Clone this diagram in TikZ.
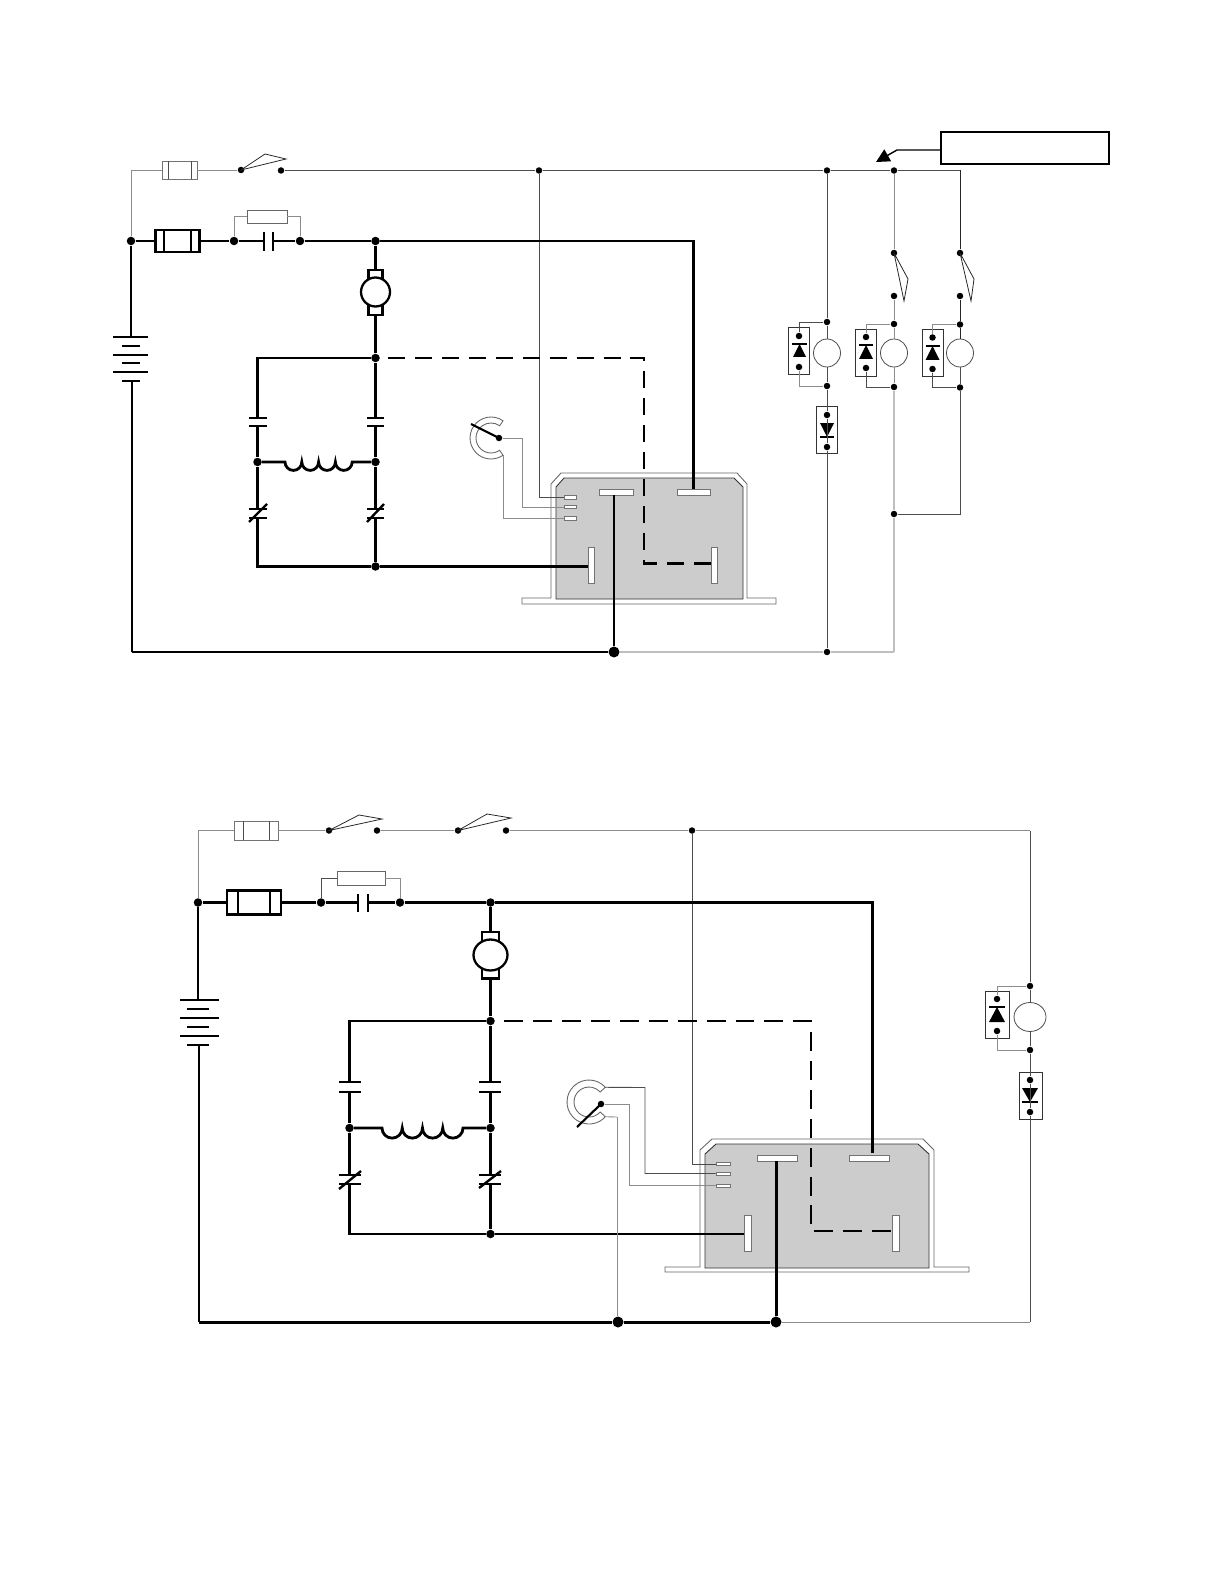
\documentclass[tikz,border=0pt]{standalone}
\usepackage{xcolor}
\usepackage{tikz}
\usetikzlibrary{calc,arrows.meta,shapes.geometric}

\tikzset{
    power/.style={line width=1.7pt, black},
    branch/.style={line width=1.6pt, black},
    signal/.style={line width=0.5pt, black!70},
    pale/.style={line width=0.5pt, black!45},
    faint/.style={line width=0.6pt, black!25},
    link/.style={line width=1.55pt, black, dash pattern=on 17*0.5669pt off 10*0.5669pt},
    jdot/.style={circle, fill=black, inner sep=0pt, minimum size=0.17cm},
    smalldot/.style={circle, fill=black, inner sep=0pt, minimum size=0.13cm},
    bigdot/.style={circle, fill=black, inner sep=0pt, minimum size=0.22cm},
    fusebox/.style={draw=black!55, line width=0.5pt, fill=white, inner sep=0pt},
    mainfuse/.style={draw=black, line width=1.5pt, fill=white, inner sep=0pt},
    shunt/.style={draw=black!60, line width=0.5pt, fill=white, inner sep=0pt},
    tab/.style={draw=black, line width=1.2pt, fill=white, inner sep=0pt},
    motor/.style={ellipse, draw=black, line width=1.3pt, fill=white, inner sep=0pt},
    lamp/.style={ellipse, draw=black!70, line width=0.45pt, fill=white, inner sep=0pt},
    diodebox/.style={draw=black!80, line width=0.5pt, inner sep=0pt, minimum width=0.42cm, minimum height=0.94cm},
    pad/.style={draw=black!55, line width=0.4pt, fill=white, inner sep=0pt},
    plate/.style={line width=1.35pt, black},
    blade/.style={line width=0.45pt, black!85},
    shell/.style={draw=black!60, line width=0.5pt, fill=white},
    core/.style={draw=black!80, line width=0.5pt, fill=black!20},
}

\begin{document}
\begin{tikzpicture}[x=0.02cm, y=-0.02cm]
    \useasboundingbox (0,0) rectangle (1224,1584);

    % Upper controller - flange, shell and grey core
    \draw[shell] (522,598) -- (551,598) -- (551,484) -- (561,473) -- (737,473) -- (747,484) -- (747,598) -- (776,598) -- (776,604) -- (522,604) -- cycle;
    \draw[core] (556,599) -- (556,487) -- (564,478) -- (734,478) -- (743,487) -- (743,599) -- cycle;

    % Upper controller - pads
    \node[pad, minimum width=0.68cm, minimum height=0.12cm] (apadl) at (616,492) {};
    \node[pad, minimum width=0.66cm, minimum height=0.12cm] (apadr) at (693.5,492) {};
    \node[pad, minimum width=0.24cm, minimum height=0.07cm] (apads1) at (570,497.5) {};
    \node[pad, minimum width=0.24cm, minimum height=0.07cm] (apads2) at (570,507) {};
    \node[pad, minimum width=0.24cm, minimum height=0.07cm] (apads3) at (570,518.5) {};
    \node[pad, minimum width=0.12cm, minimum height=0.72cm] (apadv1) at (591,565) {};
    \node[pad, minimum width=0.12cm, minimum height=0.72cm] (apadv2) at (714,565) {};

    % Upper circuit - feed line with fuse and key switch
    \node[jdot] (ain) at (131,241) {};
    \node[fusebox, minimum width=0.7cm, minimum height=0.36cm] (afuse) at (179.5,170) {};
    \draw[signal] (168,161) -- (168,179);
    \draw[signal] (191,161) -- (191,179);
    \node[smalldot] (akey1) at (241,170) {};
    \node[smalldot] (akey2) at (281,170.5) {};
    \draw[blade] (akey1.center) -- (265,154) -- (286,159) -- cycle;
    \node[smalldot] (atap) at (539,170.5) {};
    \node[smalldot] (atop1) at (827,170.5) {};
    \node[smalldot] (atop2) at (894,170.5) {};
    \coordinate (atop3) at (960,170.5);
    \draw[pale] (ain) |- (afuse.west);
    \draw[pale] (afuse.east) -- (akey1);
    \draw[signal] (akey2) -- (atap) -- (atop1) -- (atop2) -- (atop3);

    % Upper circuit - callout box
    \node[draw, line width=0.8pt, fill=white, inner sep=0pt, minimum width=3.36cm, minimum height=0.64cm] (anote) at (1025,148) {};
    \coordinate (anotetip) at (876,162);
    \coordinate (anotebend) at (897,150);
    \draw[line width=0.8pt, -{Triangle[length=0.27cm, width=0.27cm]}] (anote.west |- anotebend) -- (anotebend) -- (anotetip);

    % Upper circuit - main fuse, shunt and capacitor
    \node[mainfuse, minimum width=0.88cm, minimum height=0.44cm] (amain) at (177.5,241) {};
    \draw[branch] (164,230) -- (164,252);
    \draw[branch] (191,230) -- (191,252);
    \node[jdot] (acap1) at (234,241) {};
    \node[jdot] (acap2) at (300,241) {};
    \node[jdot] (abus) at (375.5,241) {};
    \node[shunt, minimum width=0.8cm, minimum height=0.26cm] (ashunt) at (267,216.5) {};
    \coordinate (acapl) at (264,241);
    \coordinate (acapr) at (273,241);
    \draw[plate] (264,232) -- (264,251);
    \draw[plate] (273,232) -- (273,251);
    \draw[power] (ain) -- (amain);
    \draw[power] (amain) -- (acap1) -- (acapl);
    \draw[power] (acapr) -- (acap2) -- (abus);
    \draw[pale] (acap1) |- (ashunt.west);
    \draw[pale] (acap2) |- (ashunt.east);

    % Upper circuit - battery
    \coordinate (abat1) at (131,337);
    \coordinate (abat2) at (132,381);
    \coordinate (agnd) at (132,652);
    \draw[plate] (113,337) -- (148,337);
    \draw[plate] (122,346) -- (140,346);
    \draw[plate] (113,355) -- (148,355);
    \draw[plate] (122,363) -- (140,363);
    \draw[plate] (113,372) -- (148,372);
    \draw[plate] (122,381) -- (140,381);
    \draw[power] (ain) -- (abat1);
    \draw[power] (abat2) -- (agnd);

    % Upper circuit - motor
    \node[tab, minimum width=0.28cm, minimum height=0.2cm] (amotup) at (375.5,275) {};
    \node[tab, minimum width=0.28cm, minimum height=0.2cm] (amotdn) at (375.5,310) {};
    \node[motor, minimum width=0.58cm, minimum height=0.58cm] (amot) at (375.5,292) {};
    \node[jdot] (afield) at (375.5,358) {};
    \draw[branch] (abus) -- (amotup);
    \draw[branch] (amotdn) -- (afield);

    % Upper circuit - capacitors, coil and contactor tips
    \coordinate (alt) at (257.5,358);
    \coordinate (acl1) at (257.5,418);
    \coordinate (acl2) at (257.5,426);
    \coordinate (acr1) at (375.5,418);
    \coordinate (acr2) at (375.5,426);
    \node[jdot] (anl) at (257.5,462) {};
    \node[jdot] (anr) at (375.5,462) {};
    \coordinate (avl1) at (257.5,509);
    \coordinate (avl2) at (257.5,518);
    \coordinate (avr1) at (375.5,509);
    \coordinate (avr2) at (375.5,518);
    \coordinate (alb) at (257.5,566.5);
    \node[jdot] (anb) at (375.5,566.5) {};
    \draw[plate] (249,418) -- (267,418);
    \draw[plate] (249,426) -- (267,426);
    \draw[plate] (367,418) -- (384,418);
    \draw[plate] (367,426) -- (384,426);
    \draw[plate] (249,509) -- (267,509);
    \draw[plate] (249,518) -- (267,518);
    \draw[plate] (249,522) -- (267,504);
    \draw[plate] (367,509) -- (384,509);
    \draw[plate] (367,518) -- (384,518);
    \draw[plate] (367,522) -- (384,504);
    \draw[branch] (afield) -- (alt) -- (acl1);
    \draw[branch] (acl2) -- (anl) -- (avl1);
    \draw[branch] (avl2) -- (alb) -- (anb);
    \draw[branch] (afield) -- (acr1);
    \draw[branch] (acr2) -- (anr) -- (avr1);
    \draw[branch] (avr2) -- (anb);
    \draw[branch] (anl) -- (285,462) arc[start angle=180, end angle=360, radius=0.168cm] arc[start angle=180, end angle=360, radius=0.168cm] arc[start angle=180, end angle=360, radius=0.168cm] arc[start angle=180, end angle=360, radius=0.168cm] -- (anr);
    \draw[branch] (anb) -- (anb -| apadv1.west);

    % Upper circuit - throttle pot
    \coordinate (apot) at (491,438);
    \coordinate (apottop) at ($(apot)+(55:0.42cm)$);
    \coordinate (apotbot) at ($(apot)+(305:0.42cm)$);
    \draw[pale, black!60] (apottop) arc[start angle=55, end angle=305, radius=0.42cm] -- ($(apot)+(305:0.3cm)$) arc[start angle=305, end angle=55, radius=0.3cm] -- cycle;
    \node[jdot, minimum size=0.13cm] (awiper) at (499,438) {};
    \coordinate (awiperend) at (471,424);
    \draw[line width=1.2pt] (awiper.center) -- (awiperend);
    \coordinate (awb) at (522,438);
    \draw[pale] (awiper) -- (awb) |- (apads2.west);
    \draw[pale] (apotbot) |- (apads3.west);
    \draw[signal] (atap) |- (apads1.west);

    % Upper circuit - lamp branches with diodes and switches
    \node[smalldot] (asw2a) at (894,253) {};
    \node[smalldot] (asw2b) at (894,296) {};
    \node[smalldot] (asw3a) at (960,253) {};
    \node[smalldot] (asw3b) at (960,296) {};
    \draw[blade] (asw2a.center) -- (908,279) -- (904,301) -- cycle;
    \draw[blade] (asw3a.center) -- (974,279) -- (971,301) -- cycle;
    \node[smalldot] (ala1) at (827,322) {};
    \node[smalldot] (ala2) at (894,324) {};
    \node[smalldot] (ala3) at (960,324.5) {};
    \node[lamp, minimum width=0.54cm, minimum height=0.56cm] (alamp1) at (827,353) {};
    \node[lamp, minimum width=0.54cm, minimum height=0.56cm] (alamp2) at (894,353) {};
    \node[lamp, minimum width=0.54cm, minimum height=0.56cm] (alamp3) at (960,353) {};
    \node[smalldot] (alb1) at (827,386) {};
    \node[smalldot] (alb2) at (894,387) {};
    \node[smalldot] (alb3) at (960,387.5) {};
    \node[smalldot] (ajoin) at (894,514) {};
    \coordinate (ajoin3) at (960,514);
    \node[smalldot] (aret1) at (827,652) {};
    \coordinate (aret2) at (894,652);
    \node[diodebox] (aboxd) at (827,430) {};
    \node[smalldot] (adda) at (827,415) {};
    \node[smalldot] (addb) at (827,447) {};
    \fill (820,423) -- (834,423) -- (827,437) -- cycle;
    \draw[line width=0.7pt] (820,437) -- (834,437);
    \draw[signal] (atop1) -- (ala1) -- (alamp1);
    \draw[signal] (alamp1) -- (alb1) -- (adda) -- (addb) -- (aret1);
    \draw[pale] (atop2) -- (asw2a);
    \draw[pale] (asw2b) -- (ala2) -- (alamp2);
    \draw[pale] (alamp2) -- (alb2);
    \draw[faint] (alb2) -- (ajoin) -- (aret2);
    \draw[line width=0.5pt, black!85] (atop3) -- (asw3a);
    \draw[line width=0.5pt, black!85] (asw3b) -- (ala3) -- (alamp3);
    \draw[signal] (alamp3) -- (alb3) -- (ajoin3) -- (ajoin);

    % Upper circuit - diodes across the lamps
    \node[diodebox] (aboxa) at (799,351) {};
    \node[smalldot] (ada1) at (799,336) {};
    \node[smalldot] (ada2) at (799,367) {};
    \fill (793,357) -- (806,357) -- (799.5,344) -- cycle;
    \draw[line width=0.7pt] (792,344) -- (807,344);
    \node[diodebox] (aboxb) at (866,352.5) {};
    \node[smalldot] (adb1) at (866,337) {};
    \node[smalldot] (adb2) at (866,368) {};
    \fill (859,359) -- (873,359) -- (866,345) -- cycle;
    \draw[line width=0.7pt] (859,345) -- (873,345);
    \node[diodebox] (aboxc) at (932.5,353) {};
    \node[smalldot] (adc1) at (932.5,337.5) {};
    \node[smalldot] (adc2) at (932.5,369) {};
    \fill (925.5,360) -- (939.5,360) -- (932.5,346) -- cycle;
    \draw[line width=0.7pt] (925.5,346) -- (939.5,346);
    \draw[signal] (ala1) -| (ada1);
    \draw[pale] (ada2) |- (alb1);
    \draw[pale] (ala2) -| (adb1);
    \draw[signal] (adb2) |- (alb2);
    \draw[pale] (ala3) -| (adc1);
    \draw[signal] (adc2) |- (alb3);

    % Upper circuit - bottom return and controller links
    \node[bigdot] (aground) at (614,652) {};
    \draw[power] (agnd) -- (aground);
    \draw[faint] (aground) -- (aret1);
    \draw[faint] (aret1) -- (aret2);
    \draw[branch] (aground) -- (aground |- apadl.south);
    \draw[power] (abus) -| (apadr.north);
    \draw[link, dash phase=14*0.5669pt] (afield.center) -| (644,563.5) -- (apadv2.west |- 644,563.5);

    % Lower controller - flange, shell and grey core
    \draw[shell] (665,1267) -- (700,1267) -- (700,1150) -- (712,1139) -- (923,1139) -- (934,1150) -- (934,1267) -- (969,1267) -- (969,1272) -- (665,1272) -- cycle;
    \draw[core] (705,1268) -- (705,1154) -- (716,1144) -- (918,1144) -- (929,1154) -- (929,1268) -- cycle;

    % Lower controller - pads
    \node[pad, minimum width=0.8cm, minimum height=0.12cm] (bpadl) at (777,1158) {};
    \node[pad, minimum width=0.8cm, minimum height=0.12cm] (bpadr) at (869,1158) {};
    \node[pad, minimum width=0.28cm, minimum height=0.07cm] (bpads1) at (723,1164) {};
    \node[pad, minimum width=0.28cm, minimum height=0.06cm] (bpads2) at (723,1173.5) {};
    \node[pad, minimum width=0.28cm, minimum height=0.06cm] (bpads3) at (723,1185.5) {};
    \node[pad, minimum width=0.14cm, minimum height=0.72cm] (bpadv1) at (747.5,1233) {};
    \node[pad, minimum width=0.14cm, minimum height=0.72cm] (bpadv2) at (895.5,1233) {};

    % Lower circuit - feed line with fuse and two switches
    \node[jdot] (bin) at (198,902.5) {};
    \node[fusebox, minimum width=0.88cm, minimum height=0.38cm] (bfuse) at (256,830.5) {};
    \draw[signal] (243,821) -- (243,840);
    \draw[signal] (269,821) -- (269,840);
    \node[smalldot] (bkey1) at (329,830.5) {};
    \node[smalldot] (bkey2) at (377,830.5) {};
    \draw[blade] (bkey1.center) -- (359,815) -- (382,819) -- cycle;
    \node[smalldot] (bkey3) at (458,830.5) {};
    \node[smalldot] (bkey4) at (506,830.5) {};
    \draw[blade] (bkey3.center) -- (487,814) -- (511,818) -- cycle;
    \node[smalldot] (btap) at (692,830.5) {};
    \coordinate (btop) at (1030,830.5);
    \draw[pale] (bin) |- (bfuse.west);
    \draw[pale] (bfuse.east) -- (bkey1);
    \draw[pale] (bkey2) -- (bkey3);
    \draw[pale] (bkey4) -- (btap) -- (btop);

    % Lower circuit - main fuse, shunt and capacitor
    \node[mainfuse, minimum width=1.08cm, minimum height=0.48cm] (bmain) at (254,902.5) {};
    \draw[branch] (238,891) -- (238,914);
    \draw[branch] (270,891) -- (270,914);
    \node[jdot] (bcap1) at (321,902.5) {};
    \node[jdot] (bcap2) at (400,902.5) {};
    \node[jdot] (bbus) at (490.5,902.5) {};
    \node[shunt, minimum width=0.96cm, minimum height=0.28cm] (bshunt) at (361,878) {};
    \coordinate (bcapl) at (358,902.5);
    \coordinate (bcapr) at (368,902.5);
    \draw[plate] (358,894) -- (358,912);
    \draw[plate] (368,894) -- (368,912);
    \draw[branch] (bin) -- (bmain);
    \draw[branch] (bmain) -- (bcap1) -- (bcapl);
    \draw[power] (bcapr) -- (bcap2) -- (bbus);
    \draw[signal] (bcap1) |- (bshunt.west);
    \draw[pale] (bcap2) |- (bshunt.east);

    % Lower circuit - battery
    \coordinate (bbat1) at (198,1000);
    \coordinate (bbat2) at (199,1045);
    \coordinate (bgnd) at (199,1322);
    \draw[plate] (180,1000) -- (219,1000);
    \draw[plate] (187,1009) -- (209,1009);
    \draw[plate] (180,1018) -- (219,1018);
    \draw[plate] (187,1027) -- (209,1027);
    \draw[plate] (180,1036) -- (219,1036);
    \draw[plate] (187,1045) -- (209,1045);
    \draw[branch] (bin) -- (bbat1);
    \draw[power] (bbat2) -- (bgnd);

    % Lower circuit - motor
    \node[tab, minimum width=0.34cm, minimum height=0.2cm] (bmotup) at (490.5,937) {};
    \node[tab, minimum width=0.34cm, minimum height=0.2cm] (bmotdn) at (490.5,973.5) {};
    \node[motor, minimum width=0.68cm, minimum height=0.62cm] (bmot) at (490.5,955) {};
    \node[jdot] (bfield) at (490.5,1021) {};
    \draw[branch] (bbus) -- (bmotup);
    \draw[branch] (bmotdn) -- (bfield);

    % Lower circuit - capacitors, coil and contactor tips
    \coordinate (blt) at (349.5,1021);
    \coordinate (bcl1) at (349.5,1082);
    \coordinate (bcl2) at (349.5,1092);
    \coordinate (bcr1) at (490.5,1082);
    \coordinate (bcr2) at (490.5,1092);
    \node[jdot] (bnl) at (349.5,1128) {};
    \node[jdot] (bnr) at (490.5,1128) {};
    \coordinate (bvl1) at (349.5,1175);
    \coordinate (bvl2) at (349.5,1184);
    \coordinate (bvr1) at (490.5,1175);
    \coordinate (bvr2) at (490.5,1184);
    \coordinate (blb) at (349.5,1234);
    \node[jdot] (bnb) at (490.5,1234) {};
    \draw[plate] (339,1082) -- (361,1082);
    \draw[plate] (339,1092) -- (361,1092);
    \draw[plate] (479,1082) -- (501,1082);
    \draw[plate] (479,1092) -- (501,1092);
    \draw[plate] (339,1175) -- (361,1175);
    \draw[plate] (339,1184) -- (361,1184);
    \draw[plate] (339,1189) -- (361,1171);
    \draw[plate] (479,1175) -- (501,1175);
    \draw[plate] (479,1184) -- (501,1184);
    \draw[plate] (479,1188) -- (501,1171);
    \draw[branch] (bfield) -- (blt) -- (bcl1);
    \draw[branch] (bcl2) -- (bnl) -- (bvl1);
    \draw[branch] (bvl2) -- (blb) -- (bnb);
    \draw[branch] (bfield) -- (bcr1);
    \draw[branch] (bcr2) -- (bnr) -- (bvr1);
    \draw[branch] (bvr2) -- (bnb);
    \draw[branch] (bnl) -- (382,1128) arc[start angle=180, end angle=360, radius=0.2025cm] arc[start angle=180, end angle=360, radius=0.2025cm] arc[start angle=180, end angle=360, radius=0.2025cm] arc[start angle=180, end angle=360, radius=0.2025cm] -- (bnr);
    \draw[branch] (bnb) -- (bnb -| bpadv1.west);

    % Lower circuit - throttle pot
    \coordinate (bpot) at (589,1102);
    \coordinate (bpottop) at ($(bpot)+(42:0.44cm)$);
    \coordinate (bpotbot) at ($(bpot)+(318:0.44cm)$);
    \draw[pale, black!60] (bpottop) arc[start angle=42, end angle=318, radius=0.44cm] -- ($(bpot)+(318:0.3cm)$) arc[start angle=318, end angle=42, radius=0.3cm] -- cycle;
    \node[jdot, minimum size=0.13cm] (bwiper) at (601,1104) {};
    \coordinate (bwiperend) at (577,1127);
    \draw[line width=1.2pt] (bwiper.center) -- (bwiperend);
    \coordinate (bwb) at (629,1104);
    \coordinate (btb) at (645,1087.5);
    \coordinate (blow) at (617,1117);
    \draw[pale] (bwiper) -- (bwb) |- (bpads3.west);
    \draw[signal] (bpottop) -- (btb) |- (bpads2.west);
    \draw[signal] (btap) |- (bpads1.west);

    % Lower circuit - lamp branch
    \node[smalldot] (bla) at (1030,986) {};
    \node[lamp, minimum width=0.64cm, minimum height=0.58cm] (blamp) at (1030,1017) {};
    \node[smalldot] (blc) at (1030,1050) {};
    \node[diodebox, minimum width=0.46cm] (bboxd) at (1030.5,1095.5) {};
    \node[smalldot] (bdda) at (1030,1080) {};
    \node[smalldot] (bddb) at (1030,1112) {};
    \fill (1022,1088) -- (1038,1088) -- (1030,1102) -- cycle;
    \draw[line width=0.7pt] (1022,1102) -- (1038,1102);
    \coordinate (bret) at (1030,1322);
    \draw[signal] (btop) -- (bla) -- (blamp);
    \draw[signal] (blamp) -- (blc) -- (bdda) -- (bddb) -- (bret);

    % Lower circuit - diode across the lamp
    \node[diodebox, minimum width=0.48cm] (bboxa) at (997,1014.5) {};
    \node[smalldot] (bda1) at (997,999) {};
    \node[smalldot] (bda2) at (997,1031) {};
    \fill (989,1022) -- (1005,1022) -- (997,1007) -- cycle;
    \draw[line width=0.7pt] (989,1007) -- (1005,1007);
    \draw[pale] (bla) -| (bda1);
    \draw[pale] (bda2) |- (blc);

    % Lower circuit - bottom return and controller links
    \node[bigdot] (bground1) at (618,1322) {};
    \node[bigdot] (bground2) at (776,1322) {};
    \draw[power] (bgnd) -- (bground1) -- (bground2);
    \draw[pale] (blow) -- (bpotbot);
    \draw[pale] (blow) -- (blow |- bground1.north);
    \draw[pale] (bground2) -- (bret);
    \draw[power] (bground2) -- (bground2 |- bpadl.south);
    \draw[power] (bbus) -| (872,1153);
    \draw[link, dash pattern=on 19*0.5669pt off 10*0.5669pt, dash phase=15*0.5669pt] (bfield.center) -| (811,1231) -- (bpadv2.west |- 811,1231);
\end{tikzpicture}
\end{document}
